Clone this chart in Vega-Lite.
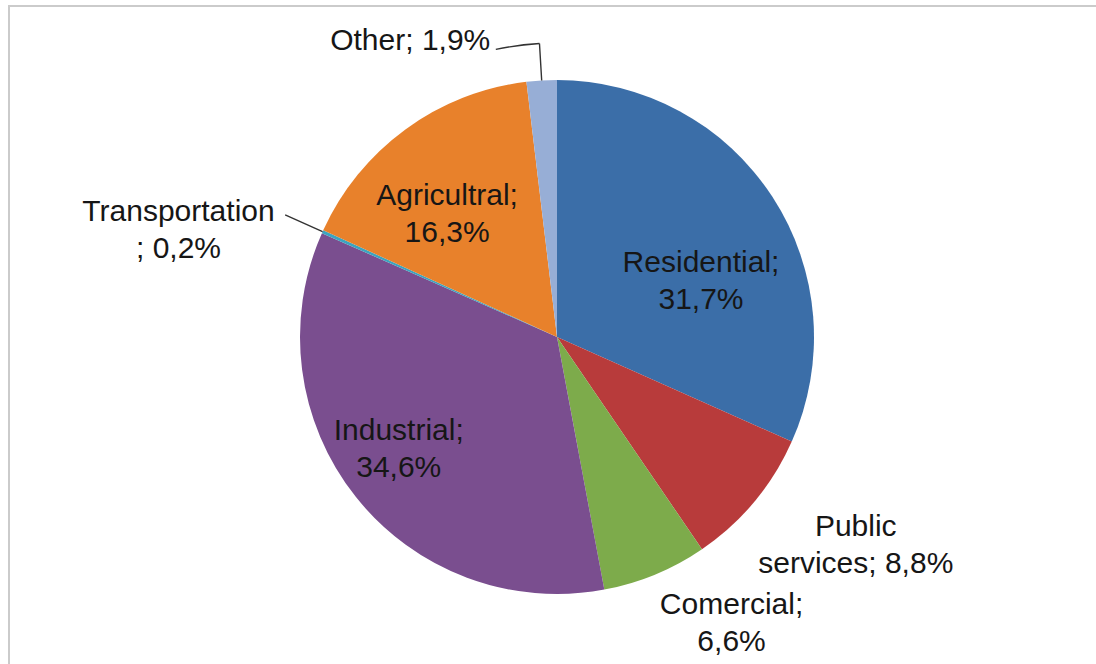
{
  "$schema": "https://vega.github.io/schema/vega-lite/v6.json",
  "width": 1096,
  "height": 662,
  "autosize": {"type": "none"},
  "padding": {"left": 9, "top": 6, "right": -9, "bottom": -4},
  "background": "white",
  "view": {"stroke": "#cbcbcb", "strokeWidth": 2, "strokeDash": [1096, 1758, 662]},
  "config": {
    "text": {
      "font": "Liberation Sans",
      "fontSize": 30,
      "lineHeight": 37,
      "lineBreak": "\n",
      "color": "#161616",
      "align": "center",
      "baseline": "middle"
    }
  },
  "data": {
    "values": [
      {"sector": "Residential", "share": 31.7},
      {"sector": "Public services", "share": 8.8},
      {"sector": "Comercial", "share": 6.6},
      {"sector": "Industrial", "share": 34.6},
      {"sector": "Transportation", "share": 0.2},
      {"sector": "Agricultral", "share": 16.3},
      {"sector": "Other", "share": 1.9}
    ]
  },
  "transform": [
    {"window": [{"op": "row_number", "as": "seq"}]},
    {"stack": "share", "groupby": [], "sort": [{"field": "seq", "order": "ascending"}], "as": ["start", "end"]},
    {"calculate": "(datum.start + datum.end) / 2", "as": "mid"},
    {"calculate": "replace(format(datum.share, '.1f'), '.', ',') + '%'", "as": "pct"},
    {"calculate": "datum.sector === 'Public services' ? 'Public\\nservices; ' + datum.pct : datum.sector === 'Transportation' ? 'Transportation\\n; ' + datum.pct : datum.sector === 'Other' ? 'Other; ' + datum.pct : datum.sector + ';\\n' + datum.pct", "as": "label"}
  ],
  "layer": [
    {
      "mark": {"type": "arc", "outerRadius": 257, "strokeWidth": 0},
      "encoding": {
        "theta": {"field": "end", "type": "quantitative", "stack": null},
        "theta2": {"field": "start"},
        "color": {
          "field": "sector",
          "type": "nominal",
          "scale": {
            "domain": ["Residential", "Public services", "Comercial", "Industrial", "Transportation", "Agricultral", "Other"],
            "range": ["#3b6ea8", "#b83b3b", "#7dab4b", "#7a4e8f", "#3ca4bf", "#e8812b", "#97aed6"]
          },
          "legend": null
        }
      }
    },
    {
      "transform": [{"filter": "datum.sector === 'Transportation'"}],
      "mark": {"type": "arc", "filled": false, "color": "#333333", "strokeWidth": 1.4, "innerRadius": 257, "outerRadius": 298},
      "encoding": {
        "theta": {"field": "mid", "type": "quantitative", "stack": null},
        "theta2": {"field": "mid"}
      }
    },
    {
      "transform": [{"filter": "datum.sector === 'Other'"}],
      "mark": {"type": "arc", "filled": false, "color": "#333333", "strokeWidth": 1.4, "innerRadius": 257, "outerRadius": 294},
      "encoding": {
        "theta": {"field": "mid", "type": "quantitative", "stack": null},
        "theta2": {"field": "mid"}
      }
    },
    {
      "transform": [{"filter": "datum.sector === 'Other'"}],
      "mark": {"type": "arc", "filled": false, "color": "#333333", "strokeWidth": 1.4, "innerRadius": 294, "outerRadius": 294, "theta2Offset": -0.15},
      "encoding": {
        "theta": {"field": "mid", "type": "quantitative", "stack": null},
        "theta2": {"field": "mid"}
      }
    },
    {
      "transform": [{"filter": "datum.sector === 'Residential'"}],
      "mark": {"type": "text", "radius": 155, "dx": 14, "dy": 10},
      "encoding": {"theta": {"field": "mid", "type": "quantitative", "stack": null}, "text": {"field": "label"}}
    },
    {
      "transform": [{"filter": "datum.sector === 'Public services'"}],
      "mark": {"type": "text", "radius": 363, "dx": 20, "dy": -43},
      "encoding": {"theta": {"field": "mid", "type": "quantitative", "stack": null}, "text": {"field": "label"}}
    },
    {
      "transform": [{"filter": "datum.sector === 'Comercial'"}],
      "mark": {"type": "text", "radius": 331, "dx": 48, "dy": -38},
      "encoding": {"theta": {"field": "mid", "type": "quantitative", "stack": null}, "text": {"field": "label"}}
    },
    {
      "transform": [{"filter": "datum.sector === 'Industrial'"}],
      "mark": {"type": "text", "radius": 193, "dx": -7, "dy": -26},
      "encoding": {"theta": {"field": "mid", "type": "quantitative", "stack": null}, "text": {"field": "label"}}
    },
    {
      "transform": [{"filter": "datum.sector === 'Transportation'"}],
      "mark": {"type": "text", "radius": 393, "dx": -20, "dy": 36},
      "encoding": {"theta": {"field": "mid", "type": "quantitative", "stack": null}, "text": {"field": "label"}}
    },
    {
      "transform": [{"filter": "datum.sector === 'Agricultral'"}],
      "mark": {"type": "text", "radius": 166, "dx": -12, "dy": -7},
      "encoding": {"theta": {"field": "mid", "type": "quantitative", "stack": null}, "text": {"field": "label"}}
    },
    {
      "transform": [{"filter": "datum.sector === 'Other'"}],
      "mark": {"type": "text", "radius": 332, "dx": -127, "dy": 35},
      "encoding": {"theta": {"field": "mid", "type": "quantitative", "stack": null}, "text": {"field": "label"}}
    }
  ]
}
